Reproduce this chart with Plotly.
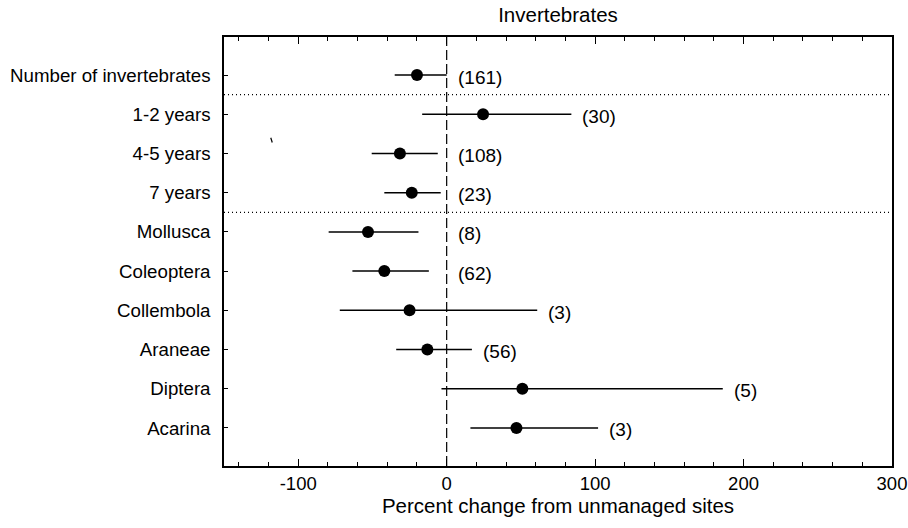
import plotly.graph_objects as go

categories = ["Number of invertebrates", "1-2 years", "4-5 years", "7 years",
              "Mollusca", "Coleoptera", "Collembola", "Araneae", "Diptera", "Acarina"]
estimate = [-20, 24.5, -31.5, -23.5, -53, -42, -25, -13, 51, 47]
ci_low = [-35, -16.5, -50.5, -42, -79.5, -63.5, -72, -34, -3.5, 16]
ci_high = [0, 84, -6, -4, -19, -12, 61, 17, 186, 102]
n_labels = ["(161)", "(30)", "(108)", "(23)", "(8)", "(62)", "(3)", "(56)", "(5)", "(3)"]
separators = [0.5, 3.5]
x_ticks = [-100, 0, 100, 200, 300]

ypos = list(range(len(categories)))
font = "Liberation Sans, Arial, sans-serif"

fig = go.Figure()
fig.add_trace(go.Scatter(
    x=estimate, y=ypos, mode="markers",
    marker=dict(size=12, color="black"),
    error_x=dict(type="data", symmetric=False,
                 array=[h - e for h, e in zip(ci_high, estimate)],
                 arrayminus=[e - l for e, l in zip(estimate, ci_low)],
                 width=0, thickness=1.5, color="black"),
    showlegend=False, hoverinfo="skip"))

for i, lab in enumerate(n_labels):
    fig.add_annotation(x=max(ci_high[i], 0), y=ypos[i], text=lab, showarrow=False,
                       xanchor="left", xshift=9, yshift=-2,
                       font=dict(family=font, size=19, color="black"))

fig.add_shape(type="line", x0=0, x1=0, y0=0, y1=1, yref="paper", xref="x",
              line=dict(color="black", width=1.2, dash="10px,4px"))
for s in separators:
    fig.add_shape(type="line", x0=0, x1=1, xref="paper", y0=s, y1=s, yref="y",
                  line=dict(color="black", width=1.2, dash="1px,3px"))

# small stray mark present in the original
fig.add_shape(type="line", x0=-118.5, x1=-117.5, y0=1.6, y1=1.72, xref="x", yref="y",
              line=dict(color="black", width=1.2))

fig.update_layout(
    width=908, height=528,
    margin=dict(l=224, r=16, t=37, b=62, autoexpand=False),
    paper_bgcolor="white", plot_bgcolor="white",
    title=dict(text="Invertebrates", x=0.5, xref="paper", xanchor="center",
               y=1 - 15 / 528, yanchor="middle",
               font=dict(family=font, size=20.5, color="black")),
    font=dict(family=font, size=19, color="black"),
)
fig.update_xaxes(
    range=[-150, 300], tickvals=x_ticks, ticktext=[str(v) for v in x_ticks],
    showgrid=False, zeroline=False, automargin=False,
    showline=True, linecolor="black", linewidth=1.5, mirror="ticks",
    ticks="inside", ticklen=7, tickwidth=1, tickcolor="black",
    minor=dict(dtick=20, tick0=0, ticks="inside", ticklen=4, tickwidth=1, tickcolor="black"),
    tickfont=dict(family=font, size=18.5),
    ticklabeloverflow="allow",
    title=dict(text="Percent change from unmanaged sites", standoff=6,
               font=dict(family=font, size=20.5)),
)
fig.update_yaxes(
    range=[9.97, -0.97], tickvals=ypos, ticktext=categories,
    showgrid=False, zeroline=False, automargin=False,
    showline=True, linecolor="black", linewidth=1.5, mirror=True,
    ticks="inside", ticklen=4, tickwidth=1, tickcolor="black",
    ticklabelstandoff=8,
    tickfont=dict(family=font, size=18.7),
)

fig.write_html("out.html", config={"displayModeBar": False},
               post_script="document.body.style.margin='0';")
